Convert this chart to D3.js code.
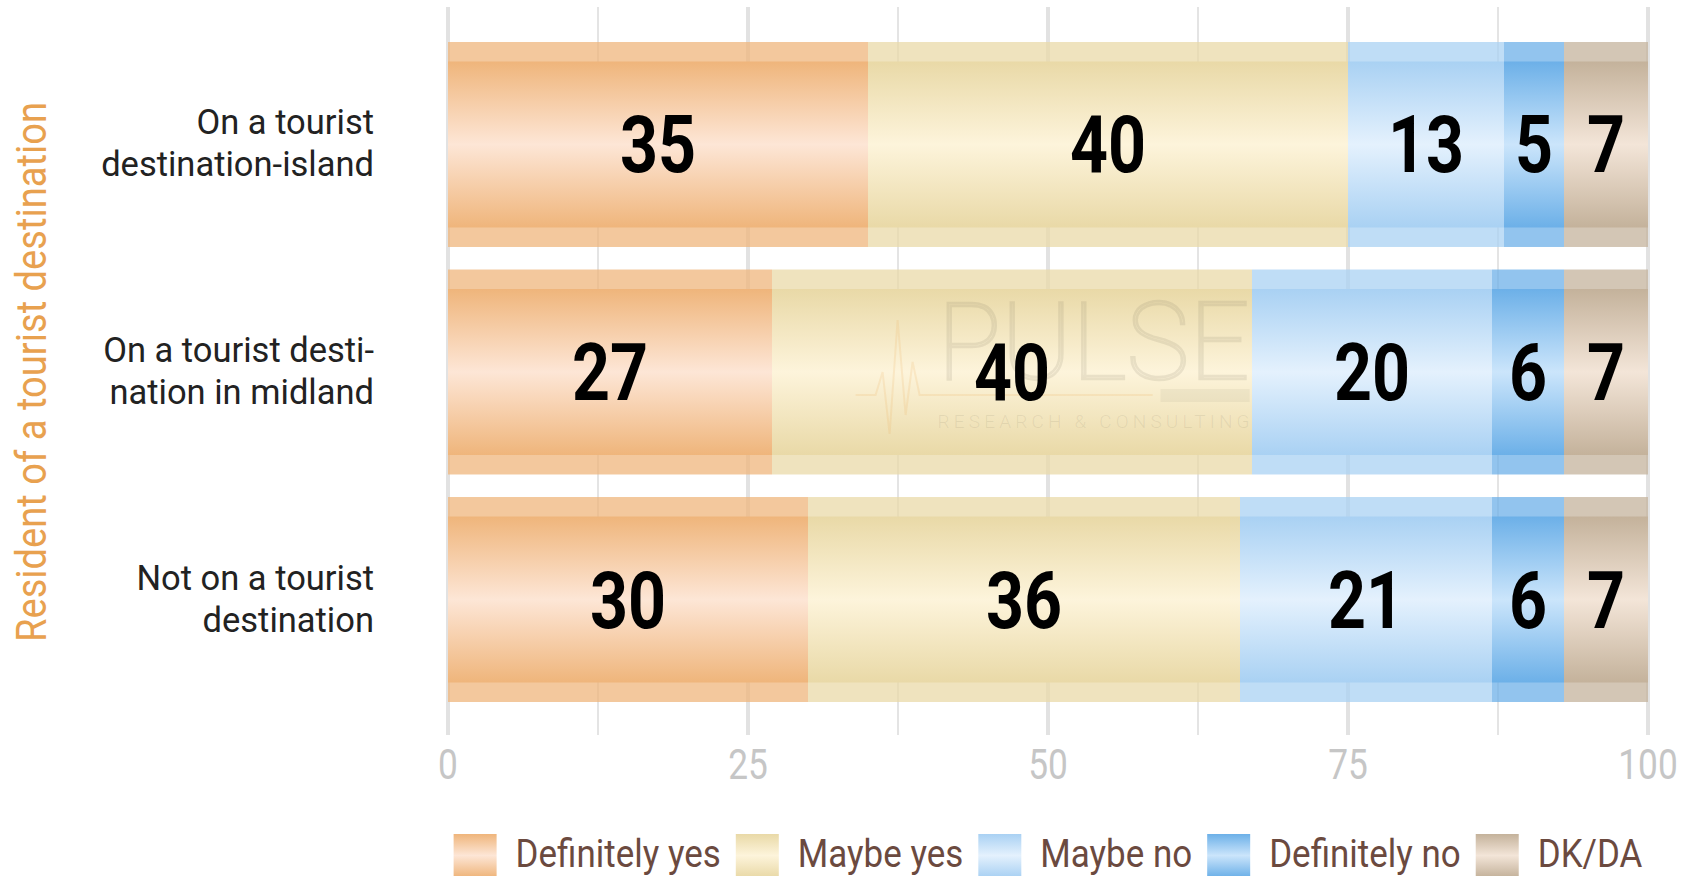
<!DOCTYPE html>
<html>
<head>
<meta charset="utf-8">
<script src="https://cdn.jsdelivr.net/npm/d3@7"></script>
<style>
  html, body { margin: 0; padding: 0; background: #ffffff; }
  svg { display: block; }
  text { font-family: Roboto, "Noto Sans", sans-serif; }
</style>
</head>
<body>
<svg id="chart" width="1700" height="876"></svg>
<script>
// ---------------- data ----------------
const categories = [
  ["On a tourist", "destination-island"],
  ["On a tourist desti-", "nation in midland"],
  ["Not on a tourist", "destination"]
];
const seriesNames = ["Definitely yes", "Maybe yes", "Maybe no", "Definitely no", "DK/DA"];
const definitelyYes = [35, 27, 30];
const maybeYes      = [40, 40, 36];
const maybeNo       = [13, 20, 21];
const definitelyNo  = [5, 6, 6];
const dkDa          = [7, 7, 7];
const tickValues    = [0, 25, 50, 75, 100];
const minorTicks    = [12.5, 37.5, 62.5, 87.5];
const axisTitle     = "Resident of a tourist destination";

// colours: [edge, centre]
const seriesColors = [
  ["#efb57b", "#fde6d6"],
  ["#e9d9a7", "#fdf4db"],
  ["#a9d1f3", "#e4f1fd"],
  ["#6cb0e8", "#cbe5fb"],
  ["#c4b29b", "#f3e5d8"]
];

const seriesValues = [definitelyYes, maybeYes, maybeNo, definitelyNo, dkDa];

// ---------------- layout ----------------
const svg = d3.select("#chart");
const defs = svg.append("defs");

const x = d3.scaleLinear().domain([0, 100]).range([448, 1648]);
const y = d3.scaleBand().domain(d3.range(categories.length)).range([42, 702]).paddingInner(0.099).paddingOuter(0);
const innerInset = 19.5;

// gradients
seriesColors.forEach((c, i) => {
  const g = defs.append("linearGradient").attr("id", "grad" + i)
    .attr("x1", 0).attr("y1", 0).attr("x2", 0).attr("y2", 1);
  g.append("stop").attr("offset", "0%").attr("stop-color", c[0]);
  g.append("stop").attr("offset", "50%").attr("stop-color", c[1]);
  g.append("stop").attr("offset", "100%").attr("stop-color", c[0]);
});

// gridlines
const grid = svg.append("g");
grid.selectAll("line.minor").data(minorTicks).join("line")
  .attr("class", "minor")
  .attr("x1", d => x(d)).attr("x2", d => x(d))
  .attr("y1", 7).attr("y2", 735)
  .attr("stroke", "#e4e4e4").attr("stroke-width", 2);
grid.selectAll("line.major").data(tickValues).join("line")
  .attr("class", "major")
  .attr("x1", d => x(d)).attr("x2", d => x(d))
  .attr("y1", 7).attr("y2", 735)
  .attr("stroke", "#e2e2e2").attr("stroke-width", 4);

// stacked data
const rows = categories.map((c, i) => {
  let acc = 0;
  return seriesValues.map((vals, s) => {
    const v = vals[i];
    const seg = { row: i, s, v, x0: acc, x1: acc + v };
    acc += v;
    return seg;
  });
}).flat();

const bars = svg.append("g");
// outer (lighter, translucent) band
bars.selectAll("rect.outer").data(rows).join("rect")
  .attr("class", "outer")
  .attr("x", d => x(d.x0)).attr("width", d => x(d.x1) - x(d.x0))
  .attr("y", d => y(d.row)).attr("height", y.bandwidth())
  .attr("fill", d => seriesColors[d.s][0]).attr("fill-opacity", 0.74);
// inner gradient bar
bars.selectAll("rect.inner").data(rows).join("rect")
  .attr("class", "inner")
  .attr("x", d => x(d.x0)).attr("width", d => x(d.x1) - x(d.x0))
  .attr("y", d => y(d.row) + innerInset).attr("height", y.bandwidth() - 2 * innerInset)
  .attr("fill", d => `url(#grad${d.s})`);

// watermark
const wm = svg.append("g");
const wmX = x(40.8), wmY = y(1) + y.bandwidth() / 2;
wm.append("text")
  .attr("x", wmX).attr("y", wmY + 7)
  .attr("font-size", 107).attr("font-weight", 100)
  .attr("textLength", 312).attr("lengthAdjust", "spacingAndGlyphs")
  .attr("fill", "none").attr("stroke", "rgba(120,110,90,0.14)").attr("stroke-width", 2.6)
  .text("PULSE");
wm.append("text")
  .attr("x", wmX).attr("y", wmY + 56)
  .attr("font-size", 19).attr("font-weight", 300)
  .attr("textLength", 312).attr("lengthAdjust", "spacing")
  .attr("fill", "rgba(120,110,90,0.12)")
  .text("RESEARCH & CONSULTING");
wm.append("rect")
  .attr("x", wmX + 223).attr("y", wmY + 17).attr("width", 89).attr("height", 13)
  .attr("fill", "rgba(120,110,90,0.08)");
const pulsePts = [[-82, 23], [-62, 23], [-55, 0], [-48, 62], [-40, -52], [-32, 43], [-25, -10], [-18, 23], [215, 23]];
wm.append("path")
  .attr("d", d3.line().x(p => wmX + p[0]).y(p => wmY + p[1])(pulsePts))
  .attr("fill", "none").attr("stroke", "rgba(235,170,80,0.16)").attr("stroke-width", 2);

// value labels
const labels = svg.append("g");
labels.selectAll("g").data(rows).join("g")
  .attr("transform", d => `translate(${(x(d.x0) + x(d.x1)) / 2},${y(d.row) + y.bandwidth() / 2 + 28})`)
  .append("text")
  .attr("transform", "scale(0.84,1)")
  .attr("text-anchor", "middle")
  .attr("font-size", 79).attr("font-weight", 700)
  .attr("fill", "#000")
  .text(d => d.v);

// category labels
const cat = svg.append("g");
categories.forEach((lines, i) => {
  const cy = y(i) + y.bandwidth() / 2;
  const t = cat.append("text").attr("text-anchor", "end")
    .attr("font-size", 34.5).attr("fill", "#222");
  t.append("tspan").attr("x", 374).attr("y", cy - 10).text(lines[0]);
  t.append("tspan").attr("x", 374).attr("y", cy + 32).text(lines[1]);
});

// axis title
svg.append("g").attr("transform", `translate(46,${(y.range()[0] + y.range()[1]) / 2}) rotate(-90)`)
  .append("text")
  .attr("transform", "scale(0.887,1)")
  .attr("text-anchor", "middle")
  .attr("font-size", 43).attr("fill", "#e8a14f")
  .text(axisTitle);

// x tick labels
svg.append("g").selectAll("g").data(tickValues).join("g")
  .attr("transform", d => `translate(${x(d)},779)`)
  .append("text")
  .attr("transform", "scale(0.82,1)")
  .attr("text-anchor", "middle")
  .attr("font-size", 43).attr("fill", "#c6c6c6")
  .text(d => d);

// legend
const legend = svg.append("g");
const sw = 43, gapText = 19, gapItem = 15, lgScale = 0.92;
const items = seriesNames.map((name, i) => {
  const g = legend.append("g");
  g.append("rect").attr("x", 0).attr("y", 834).attr("width", sw).attr("height", 43)
    .attr("fill", `url(#grad${i})`);
  const tg = g.append("g").attr("transform", `translate(${sw + gapText},867)`);
  const t = tg.append("text").attr("transform", `scale(${lgScale},1)`)
    .attr("font-size", 38).attr("fill", "#6b4a3f").text(name);
  const w = t.node().getComputedTextLength() * lgScale;
  return { g, w: sw + gapText + w };
});
const total = d3.sum(items, d => d.w) + gapItem * (items.length - 1);
let lx = (x(0) + x(100)) / 2 - total / 2;
items.forEach(it => {
  it.g.attr("transform", `translate(${lx},0)`);
  lx += it.w + gapItem;
});
</script>
</body>
</html>
